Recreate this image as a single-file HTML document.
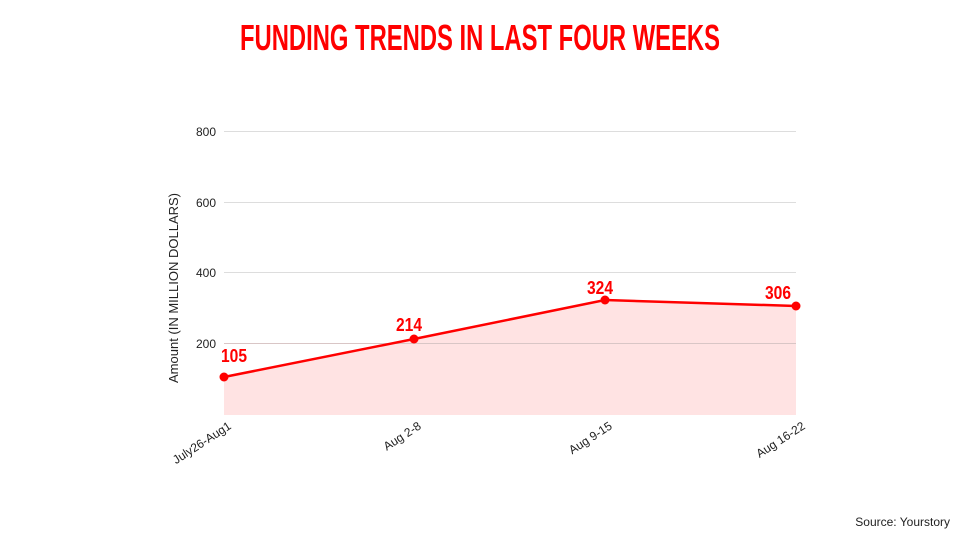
<!DOCTYPE html>
<html><head><meta charset="utf-8"><style>
html,body{margin:0;padding:0;background:#fff;}
svg{display:block;font-family:"Liberation Sans",Arial,sans-serif;}
</style></head><body>
<svg width="960" height="540" viewBox="0 0 960 540" xmlns="http://www.w3.org/2000/svg">
<text x="480" y="50" text-anchor="middle" fill="#ff0000" font-weight="bold" font-size="36" textLength="480" lengthAdjust="spacingAndGlyphs">FUNDING TRENDS IN LAST FOUR WEEKS</text>
<g stroke="#dddddd" stroke-width="1">
<line x1="224" y1="131.5" x2="796" y2="131.5"/>
<line x1="224" y1="202.5" x2="796" y2="202.5"/>
<line x1="224" y1="272.5" x2="796" y2="272.5"/>
</g>
<polygon points="224,377 414,339 605,300 796,306 796,415 224,415" fill="#ffe3e3"/>
<line x1="224" y1="343.5" x2="796" y2="343.5" stroke="#d9c6c6" stroke-width="1"/>
<g font-size="12" fill="#222" text-anchor="end">
<text x="216" y="136">800</text>
<text x="216" y="207">600</text>
<text x="216" y="277">400</text>
<text x="216" y="348">200</text>
</g>
<text transform="translate(178,288) rotate(-90)" text-anchor="middle" font-size="13" fill="#222">Amount (IN MILLION DOLLARS)</text>
<polyline points="224,377 414,339 605,300 796,306" fill="none" stroke="#ff0000" stroke-width="2.5"/>
<g fill="#ff0000">
<circle cx="224" cy="377" r="4.5"/><circle cx="414" cy="339" r="4.5"/>
<circle cx="605" cy="300" r="4.5"/><circle cx="796" cy="306" r="4.5"/>
</g>
<g fill="#ff0000" font-weight="bold" font-size="18" text-anchor="middle">
<text x="234" y="362" textLength="26" lengthAdjust="spacingAndGlyphs">105</text>
<text x="409" y="331" textLength="26" lengthAdjust="spacingAndGlyphs">214</text>
<text x="600" y="294" textLength="26" lengthAdjust="spacingAndGlyphs">324</text>
<text x="778" y="299" textLength="26" lengthAdjust="spacingAndGlyphs">306</text>
</g>
<g font-size="12" fill="#222" text-anchor="end">
<text transform="translate(232,428) rotate(-33)">July26-Aug1</text>
<text transform="translate(422,428) rotate(-33)">Aug 2-8</text>
<text transform="translate(613,428) rotate(-33)">Aug 9-15</text>
<text transform="translate(806,428) rotate(-33)">Aug 16-22</text>
</g>
<text x="950" y="526" text-anchor="end" font-size="12" fill="#222">Source: Yourstory</text>
</svg>
</body></html>
